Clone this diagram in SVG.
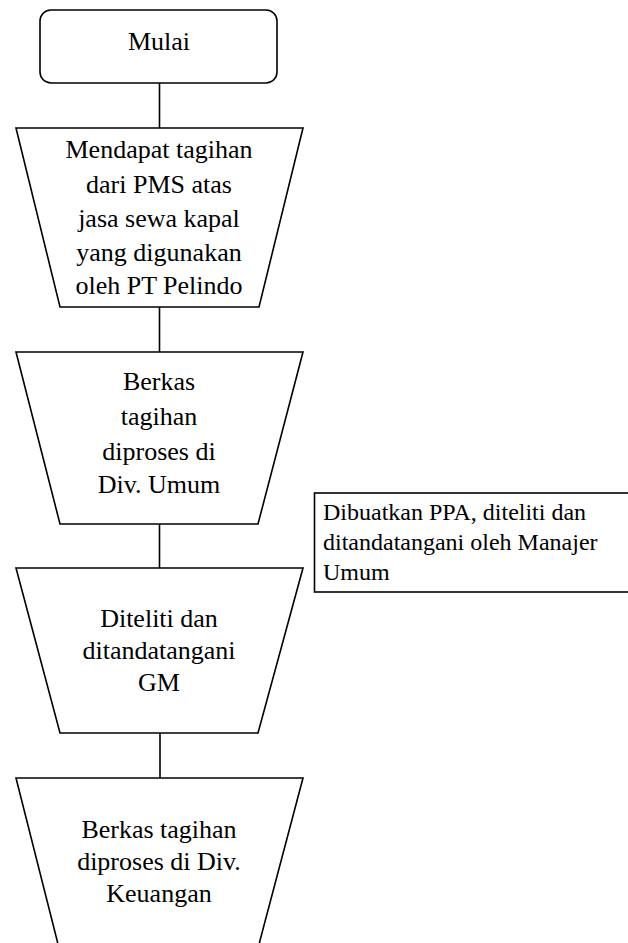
<svg xmlns="http://www.w3.org/2000/svg" width="628" height="943" viewBox="0 0 628 943">
<style>
.s{fill:#fff;stroke:#000;stroke-width:1.6}
.c{fill:none;stroke:#000;stroke-width:1.6}
.t{font-family:"Liberation Serif","Times New Roman",serif;font-size:26px;fill:#000;text-anchor:middle}
.n{font-size:24px;text-anchor:start}
</style>
<rect width="628" height="943" fill="#fff"/>
<g id="connectors">
<line class="c" x1="159.5" y1="83" x2="159.5" y2="128"/>
<line class="c" x1="159.5" y1="307" x2="159.5" y2="352"/>
<line class="c" x1="159.5" y1="524" x2="159.5" y2="568"/>
<line class="c" x1="160" y1="733" x2="160" y2="778"/>
</g>
<g id="start">
<rect class="s" x="40" y="10" width="237" height="73" rx="11"/>
<text class="t" x="159" y="50">Mulai</text>
</g>
<g id="step1">
<polygon class="s" points="16,128 303,128 259,307 60,307"/>
<text class="t" x="159" y="158">Mendapat tagihan</text>
<text class="t" x="159" y="193">dari PMS atas</text>
<text class="t" x="159" y="227">jasa sewa kapal</text>
<text class="t" x="159" y="261">yang digunakan</text>
<text class="t" x="159" y="294">oleh PT Pelindo</text>
</g>
<g id="step2">
<polygon class="s" points="16,352 303,352 258,524 60,524"/>
<text class="t" x="159" y="390">Berkas</text>
<text class="t" x="159" y="425">tagihan</text>
<text class="t" x="159" y="460">diproses di</text>
<text class="t" x="159" y="493">Div. Umum</text>
</g>
<g id="note">
<rect class="s" x="314.5" y="493" width="320" height="99"/>
<text class="t n" x="323" y="520">Dibuatkan PPA, diteliti dan</text>
<text class="t n" x="323" y="550">ditandatangani oleh Manajer</text>
<text class="t n" x="323" y="580">Umum</text>
</g>
<g id="step3">
<polygon class="s" points="16,568 303,568 258,733 60,733"/>
<text class="t" x="159" y="627">Diteliti dan</text>
<text class="t" x="159" y="659">ditandatangani</text>
<text class="t" x="159" y="691">GM</text>
</g>
<g id="step4">
<polygon class="s" points="16,778 303,778 258,948 59,948"/>
<text class="t" x="159" y="838">Berkas tagihan</text>
<text class="t" x="159" y="870">diproses di Div.</text>
<text class="t" x="159" y="902">Keuangan</text>
</g>
</svg>
